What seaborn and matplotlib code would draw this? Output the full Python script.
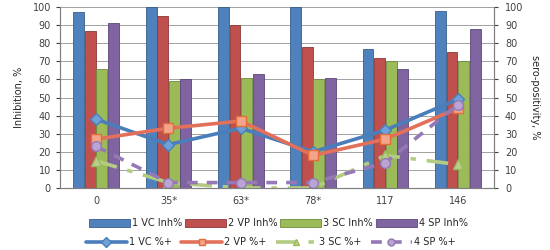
import numpy as np
import pandas as pd
import matplotlib
matplotlib.use('Agg')
import matplotlib.pyplot as plt
import seaborn as sns
from matplotlib.lines import Line2D
from matplotlib.patches import Patch

sns.set_style('white')
plt.rcParams['font.family'] = ['DejaVu Sans']

categories = ['0', '35*', '63*', '78*', '117', '146']

# inhibition bars, %
vc_inh = [97, 100, 100, 100, 77, 98]
vp_inh = [87, 95, 90, 78, 72, 75]
sc_inh = [66, 59, 61, 60, 70, 70]
sp_inh = [91, 60, 63, 61, 66, 88]

# sero-positivity lines, %
vc_pos = [38, 24, 33, 20, 32, 49]
vp_pos = [27, 33, 37, 18, 27, 44]
sc_pos = [15, 3, 0, 0, 18, 13]
sp_pos = [23, 3, 3, 3, 14, 46]

bar_names = ['1 VC Inh%', '2 VP Inh%', '3 SC Inh%', '4 SP Inh%']
line_names = ['1 VC %+', '2 VP %+', '3 SC %+', '4 SP %+']
bar_colors = ['#4F81BD', '#C0504D', '#9BBB59', '#8064A2']
bar_edges = ['#385D8A', '#8C3836', '#71893F', '#5C4776']

df = pd.DataFrame({
    'day': categories * 4,
    'series': np.repeat(bar_names, len(categories)),
    'value': vc_inh + vp_inh + sc_inh + sp_inh,
})

fig = plt.figure(figsize=(5.5, 2.5), dpi=100)
ax = fig.add_axes([0.109, 0.248, 0.789, 0.724])

sns.barplot(data=df, x='day', y='value', hue='series', palette=bar_colors,
            width=0.64, gap=0.06, ax=ax, legend=False, saturation=1)
for i, cont in enumerate(ax.containers):
    for p in cont:
        p.set_edgecolor(bar_edges[i])
        p.set_linewidth(0.6)

ax.set_ylim(0, 100)
ax.set_xlim(-0.5, len(categories) - 0.5)
ax.set_yticks(range(0, 101, 10))
ax.yaxis.grid(True, color='#A0A0A0', linewidth=0.7)
ax.set_axisbelow(True)
ax.set_xlabel('')
ax.set_ylabel('Inhibition, %', fontsize=7, labelpad=6)
ax.tick_params(axis='both', labelsize=7, colors='#404040', length=3)
ax.tick_params(axis='x', length=0, pad=6)
ax.set_xticks(np.arange(-0.5, len(categories), 1), minor=True)
ax.tick_params(axis='x', which='minor', length=4, color='#808080')
ax.spines['top'].set_visible(False)
for s in ['left', 'right', 'bottom']:
    ax.spines[s].set_color('#808080')

ax2 = ax.twinx()
x = np.arange(len(categories))
ax2.plot(x, vc_pos, color='#4A7EBB', lw=2.6, marker='D', ms=6,
         mfc='#6FA0D8', mec='#4A7EBB')
ax2.plot(x, vp_pos, color='#E3705A', lw=2.6, marker='s', ms=7,
         mfc='#F3A58C', mec='#E36C3A')
ax2.plot(x, sc_pos, color='#B3CC82', lw=2.6, marker='^', ms=7,
         mfc='#B8CF8E', mec='#9BBB59', linestyle=(0, (6, 3, 1.5, 3)))
ax2.plot(x, sp_pos, color='#9579B7', lw=2.6, marker='o', ms=7,
         mfc='#B9A4D4', mec='#9579B7', linestyle=(0, (3, 2.5)))
ax2.set_ylim(0, 100)
ax2.set_yticks(range(0, 101, 10))
ax2.tick_params(axis='y', labelsize=7, colors='#404040', length=3, pad=5)
ax2.set_ylabel('sero-positivity, %', fontsize=7, rotation=270, labelpad=12)
ax2.spines['top'].set_visible(False)
for s in ['left', 'right', 'bottom']:
    ax2.spines[s].set_color('#808080')

bar_handles = [Patch(facecolor=c, edgecolor=e, linewidth=0.6)
               for c, e in zip(bar_colors, bar_edges)]
fig.legend(bar_handles, bar_names, loc='center', bbox_to_anchor=(0.506, 0.108),
           ncol=4, frameon=False, fontsize=7, handlelength=4.2, handleheight=0.9,
           handletextpad=0.2, columnspacing=0.3)

line_handles = [
    Line2D([], [], color='#4A7EBB', lw=2.6, marker='D', ms=5, mfc='#6FA0D8', mec='#4A7EBB'),
    Line2D([], [], color='#E3705A', lw=2.6, marker='s', ms=5, mfc='#F3A58C', mec='#E36C3A'),
    Line2D([], [], color='#B3CC82', lw=2.6, marker='^', ms=5, mfc='#B8CF8E', mec='#9BBB59',
           linestyle=(0, (6, 3, 1.5, 3))),
    Line2D([], [], color='#9579B7', lw=2.6, marker='o', ms=5, mfc='#B9A4D4', mec='#9579B7',
           linestyle=(0, (3, 2.5))),
]
fig.legend(line_handles, line_names, loc='center', bbox_to_anchor=(0.492, 0.032),
           ncol=4, frameon=False, fontsize=7, handlelength=4.2,
           handletextpad=0.2, columnspacing=1.0)

fig.savefig('out.png', dpi=100)
